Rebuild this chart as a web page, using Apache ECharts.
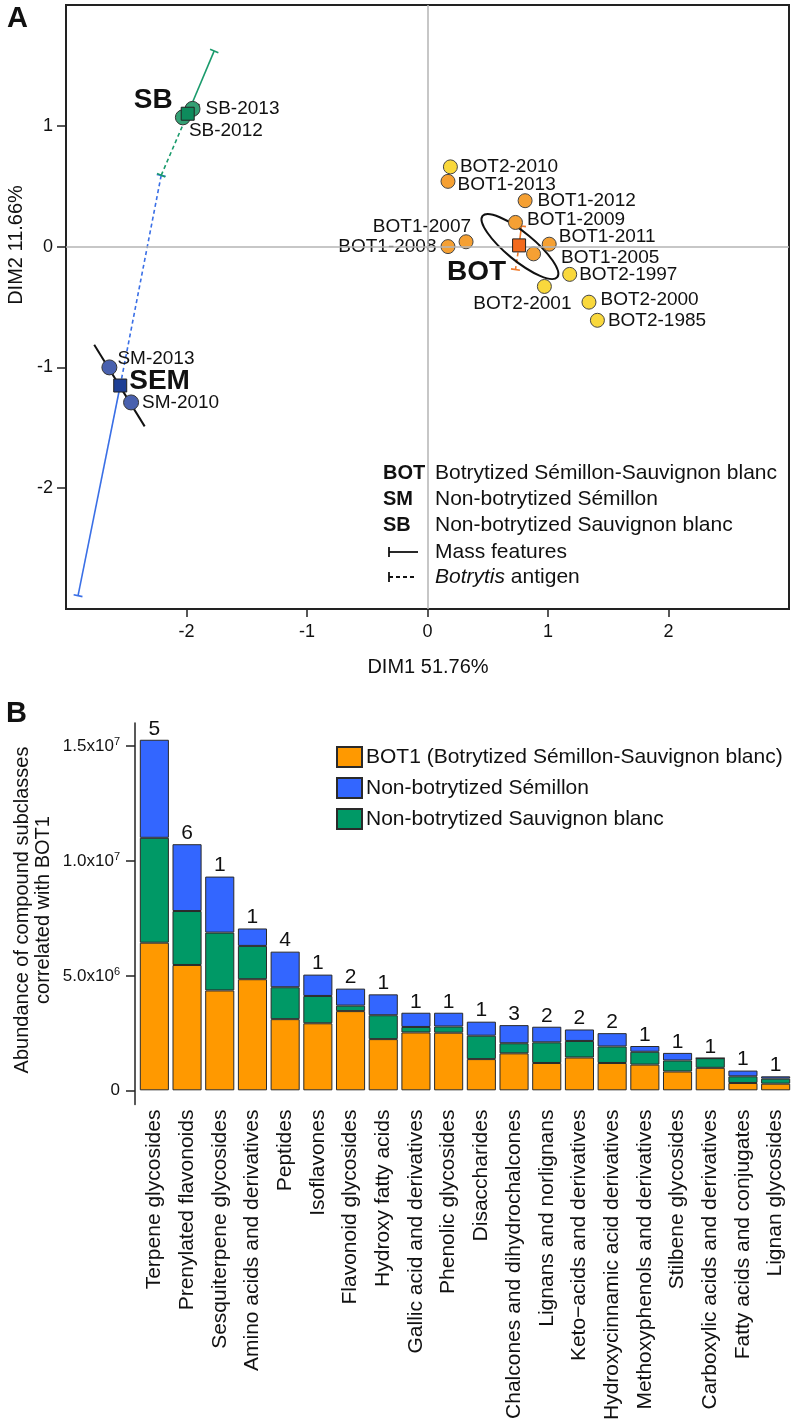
<!DOCTYPE html>
<html>
<head>
<meta charset="utf-8">
<title>BOT / SEM / SB</title>
<script src="https://cdn.jsdelivr.net/npm/echarts@6/dist/echarts.min.js"></script>
<style>
  html, body { margin: 0; padding: 0; background: #fff; }
  #main { width: 793px; height: 1423px; }
</style>
</head>
<body>
<div id="main"></div>
<script>
// ---- panel A: sample scores (DIM1, DIM2) ----
var bot1Names = ['BOT1-2013', 'BOT1-2012', 'BOT1-2009', 'BOT1-2007', 'BOT1-2008', 'BOT1-2011', 'BOT1-2005'];
var bot1X = [0.17, 0.81, 0.73, 0.32, 0.17, 1.01, 0.88];
var bot1Y = [0.54, 0.38, 0.20, 0.04, 0.00, 0.02, -0.06];
var bot2Names = ['BOT2-2010', 'BOT2-1997', 'BOT2-2001', 'BOT2-2000', 'BOT2-1985'];
var bot2X = [0.19, 1.18, 0.97, 1.34, 1.41];
var bot2Y = [0.66, -0.23, -0.33, -0.46, -0.61];
var smNames = ['SM-2013', 'SM-2010'];
var smX = [-2.64, -2.46];
var smY = [-1.00, -1.29];
var sbNames = ['SB-2013', 'SB-2012'];
var sbX = [-1.95, -2.03];
var sbY = [1.14, 1.07];

// group centroids and partial points (mass features / Botrytis antigen)
var groupNames = ['BOT', 'SEM', 'SB'];
var centroidX = [0.76, -2.55, -1.99];
var centroidY = [0.01, -1.15, 1.10];
var massX = [0.78, -2.90, -1.77];
var massY = [0.17, -2.89, 1.62];
var antigenX = [0.73, -2.21, -2.21];
var antigenY = [-0.19, 0.59, 0.59];
// confidence ellipses: major axis end points + semi-minor axis
var ellX1 = [0.457, -2.766, -2.069];
var ellY1 = [0.254, -0.812, 1.041];
var ellX2 = [1.077, -2.347, -1.893];
var ellY2 = [-0.253, -1.488, 1.179];
var ellMinor = [0.116, 0, 0];

var dimTicksX = [-2, -1, 0, 1, 2];
var dimTicksY = [-2, -1, 0, 1];

// ---- panel B: abundance of compound subclasses ----
var categories = ['Terpene glycosides', 'Prenylated flavonoids', 'Sesquiterpene glycosides',
  'Amino acids and derivatives', 'Peptides', 'Isoflavones', 'Flavonoid glycosides',
  'Hydroxy fatty acids', 'Gallic acid and derivatives', 'Phenolic glycosides', 'Disaccharides',
  'Chalcones and dihydrochalcones', 'Lignans and norlignans', 'Keto\u2212acids and derivatives',
  'Hydroxycinnamic acid derivatives', 'Methoxyphenols and derivatives', 'Stilbene glycosides',
  'Carboxylic acids and derivatives', 'Fatty acids and conjugates', 'Lignan glycosides'];
var bot1Abund = [6.43e6, 5.46e6, 4.35e6, 4.84e6, 3.10e6, 2.92e6, 3.45e6, 2.23e6, 2.52e6, 2.51e6,
  1.36e6, 1.61e6, 1.19e6, 1.43e6, 1.19e6, 1.12e6, 0.82e6, 0.98e6, 0.32e6, 0.29e6];
var sauvAbund = [4.57e6, 2.35e6, 2.52e6, 1.45e6, 1.39e6, 1.19e6, 0.24e6, 1.04e6, 0.24e6, 0.27e6,
  1.02e6, 0.44e6, 0.90e6, 0.72e6, 0.72e6, 0.56e6, 0.48e6, 0.42e6, 0.29e6, 0.22e6];
var semAbund = [4.27e6, 2.91e6, 2.44e6, 0.76e6, 1.55e6, 0.93e6, 0.74e6, 0.91e6, 0.62e6, 0.60e6,
  0.61e6, 0.79e6, 0.68e6, 0.50e6, 0.58e6, 0.25e6, 0.33e6, 0, 0.25e6, 0.10e6];
var counts = [5, 6, 1, 1, 4, 1, 2, 1, 1, 1, 1, 3, 2, 2, 2, 1, 1, 1, 1, 1];
var abundTicks = [0, 5e6, 1e7, 1.5e7];

var FONT = '"Liberation Sans", Arial, Helvetica, sans-serif';
var groupLineColors = ['#F07A2A', '#3A6FE6', '#1A9B6C'];
var squareColors = ['#F26A1E', '#1E3F95', '#0E8B5C'];

// label placement per point (style only)
var labelPlace = {
  'BOT2-2010': {position: 'right', distance: 2},
  'BOT1-2013': {position: 'right', distance: 2, offset: [0, 3]},
  'BOT1-2012': {position: 'right', distance: 5},
  'BOT1-2009': {position: 'right', distance: 4, offset: [0, -3]},
  'BOT1-2007': {position: 'inside', align: 'right', offset: [5, -15]},
  'BOT1-2008': {position: 'left', distance: 4},
  'BOT1-2011': {position: 'right', distance: 2, offset: [0, -7]},
  'BOT1-2005': {position: 'right', distance: 20, offset: [0, 4]},
  'BOT2-1997': {position: 'right', distance: 2},
  'BOT2-2001': {position: 'inside', offset: [-22, 17]},
  'BOT2-2000': {position: 'right', distance: 4, offset: [0, -2]},
  'BOT2-1985': {position: 'right', distance: 3},
  'SM-2013': {position: 'inside', align: 'left', offset: [8, -9]},
  'SM-2010': {position: 'right', distance: 3},
  'SB-2013': {position: 'right', distance: 5},
  'SB-2012': {position: 'inside', align: 'left', offset: [6, 13]},
  'BOT': {position: 'inside', align: 'right', offset: [-13, 27]},
  'SEM': {position: 'inside', align: 'left', offset: [9, -4]},
  'SB': {position: 'inside', align: 'right', offset: [-15, -13]}
};

function pointData(names, xs, ys, bold) {
  return names.map(function (n, i) {
    var lp = labelPlace[n] || {position: 'right'};
    var lab = {show: true, formatter: n, color: '#111', fontFamily: FONT,
      fontSize: bold ? 28 : 19, fontWeight: bold ? 'bold' : 'normal'};
    for (var k in lp) lab[k] = lp[k];
    return {name: n, value: [xs[i], ys[i]], label: lab};
  });
}

function renderPartial(dashed) {
  return function (params, api) {
    var p0 = api.coord([api.value(0), api.value(1)]);
    var p1 = api.coord([api.value(2), api.value(3)]);
    var dx = p1[0] - p0[0], dy = p1[1] - p0[1];
    var len = Math.sqrt(dx * dx + dy * dy) || 1;
    var nx = -dy / len * 4.5, ny = dx / len * 4.5;
    var c = groupLineColors[params.dataIndex];
    return {
      type: 'group',
      children: [
        {type: 'line', shape: {x1: p0[0], y1: p0[1], x2: p1[0], y2: p1[1]},
          style: {stroke: c, lineWidth: 1.6, lineDash: dashed ? [4, 3] : null}},
        {type: 'line', shape: {x1: p1[0] - nx, y1: p1[1] - ny, x2: p1[0] + nx, y2: p1[1] + ny},
          style: {stroke: c, lineWidth: 1.6}}
      ]
    };
  };
}

function renderEllipse(params, api) {
  var a = api.coord([api.value(0), api.value(1)]);
  var b = api.coord([api.value(2), api.value(3)]);
  var minor = api.size([0, api.value(4)])[1];
  if (minor < 1) {
    return {type: 'line', shape: {x1: a[0], y1: a[1], x2: b[0], y2: b[1]},
      style: {stroke: '#111', lineWidth: 2}};
  }
  var cx = (a[0] + b[0]) / 2, cy = (a[1] + b[1]) / 2;
  var rx = Math.sqrt((b[0] - a[0]) * (b[0] - a[0]) + (b[1] - a[1]) * (b[1] - a[1])) / 2;
  var ang = Math.atan2(b[1] - a[1], b[0] - a[0]);
  return {type: 'ellipse', x: cx, y: cy, rotation: -ang,
    shape: {cx: 0, cy: 0, rx: rx, ry: minor},
    style: {fill: 'none', stroke: '#111', lineWidth: 2}};
}

var partialMass = centroidX.map(function (v, i) { return [v, centroidY[i], massX[i], massY[i]]; });
var partialAnt = centroidX.map(function (v, i) { return [v, centroidY[i], antigenX[i], antigenY[i]]; });
var ellipses = ellX1.map(function (v, i) { return [v, ellY1[i], ellX2[i], ellY2[i], ellMinor[i]]; });
var totals = bot1Abund.map(function (v, i) { return v + sauvAbund[i] + semAbund[i]; });

var chart = echarts.init(document.getElementById('main'));

var legendRowStyle = {fontFamily: FONT, fontSize: 20, fill: '#111', textVerticalAlign: 'middle'};
function gText(x, y, text, extra) {
  var st = {text: text};
  for (var k in legendRowStyle) st[k] = legendRowStyle[k];
  for (var j in (extra || {})) st[j] = extra[j];
  return {type: 'text', x: x, y: y, style: st, z: 10};
}

var option = {
  animation: false,
  textStyle: {fontFamily: FONT, color: '#111'},
  grid: [
    {left: 66, top: 5, width: 723, height: 604, show: true, borderColor: '#222', borderWidth: 2},
    {left: 138, top: 723, width: 654, height: 400}
  ],
  xAxis: [
    {gridIndex: 0, type: 'value', min: -3, max: 3, interval: 1,
      axisLine: {show: true, onZero: false, lineStyle: {color: '#222', width: 2}},
      axisTick: {show: true, length: 8, customValues: dimTicksX, lineStyle: {color: '#222', width: 1.5}},
      axisLabel: {customValues: dimTicksX, fontSize: 18, margin: 14, color: '#111'},
      splitLine: {show: false}},
    {gridIndex: 1, type: 'category', data: categories,
      axisLine: {show: false, onZero: true},
      axisTick: {show: false},
      axisLabel: {rotate: 90, interval: 0, fontSize: 21, margin: 5, color: '#111'},
      splitLine: {show: false}}
  ],
  yAxis: [
    {gridIndex: 0, type: 'value', min: -3, max: 2, interval: 1,
      axisLine: {show: true, onZero: false, lineStyle: {color: '#222', width: 2}},
      axisTick: {show: true, length: 9, customValues: dimTicksY, lineStyle: {color: '#222', width: 1.5}},
      axisLabel: {customValues: dimTicksY, fontSize: 18, margin: 13, color: '#111'},
      splitLine: {show: false}},
    {gridIndex: 1, type: 'value', min: -6.2e5, max: 1.6e7, offset: 3,
      axisLine: {show: true, onZero: false, lineStyle: {color: '#222', width: 1.5}},
      axisTick: {show: true, length: 9, customValues: abundTicks, lineStyle: {color: '#222', width: 1.5}},
      axisLabel: {customValues: abundTicks, margin: 15, color: '#111',
        formatter: function (v) {
          if (v === 0) return '{n|0}';
          var e = Math.floor(Math.log10(v) + 1e-9);
          var m = v / Math.pow(10, e);
          return '{n|' + m.toFixed(1) + 'x10}{s|' + e + '}';
        },
        rich: {
          n: {fontSize: 17, color: '#111', fontFamily: FONT, verticalAlign: 'bottom'},
          s: {fontSize: 11, color: '#111', fontFamily: FONT, verticalAlign: 'bottom', padding: [0, 0, 7, 0]}
        }},
      splitLine: {show: false}}
  ],
  legend: {
    data: ['BOT1 (Botrytized Sémillon-Sauvignon blanc)', 'Non-botrytized Sémillon', 'Non-botrytized Sauvignon blanc'],
    orient: 'vertical', left: 331, top: 741, icon: 'rect',
    itemWidth: 25, itemHeight: 20, itemGap: 9,
    textStyle: {fontSize: 21, color: '#111', fontFamily: FONT, padding: [0, 0, 0, -1]}
  },
  graphic: [
    {type: 'text', x: 7, y: 4, style: {text: 'A', fontFamily: FONT, fontSize: 29, fontWeight: 'bold', fill: '#111'}},
    {type: 'text', x: 6, y: 699, style: {text: 'B', fontFamily: FONT, fontSize: 29, fontWeight: 'bold', fill: '#111'}},
    {type: 'text', x: 428, y: 667, style: {text: 'DIM1 51.76%', fontFamily: FONT, fontSize: 20, fill: '#111',
      textAlign: 'center', textVerticalAlign: 'middle'}},
    {type: 'text', x: 16, y: 245, rotation: Math.PI / 2, style: {text: 'DIM2 11.66%', fontFamily: FONT, fontSize: 20,
      fill: '#111', textAlign: 'center', textVerticalAlign: 'middle'}},
    {type: 'text', x: 33, y: 910, rotation: Math.PI / 2, style: {
      text: 'Abundance of compound subclasses\ncorrelated with BOT1', fontFamily: FONT, fontSize: 20,
      lineHeight: 21, fill: '#111', textAlign: 'center', textVerticalAlign: 'middle'}},
    // panel A key
    gText(383, 473, 'BOT', {fontWeight: 'bold'}),
    gText(383, 499, 'SM', {fontWeight: 'bold'}),
    gText(383, 525, 'SB', {fontWeight: 'bold'}),
    gText(435, 473, 'Botrytized Sémillon-Sauvignon blanc', {fontSize: 21}),
    gText(435, 499, 'Non-botrytized Sémillon', {fontSize: 21}),
    gText(435, 525, 'Non-botrytized Sauvignon blanc', {fontSize: 21}),
    gText(435, 552, 'Mass features', {fontSize: 21}),
    gText(435, 577, '{i|Botrytis} antigen', {fontSize: 21, rich: {i: {fontStyle: 'italic', fontSize: 21, fontFamily: FONT}}}),
    {type: 'line', shape: {x1: 389, y1: 552, x2: 418, y2: 552}, style: {stroke: '#111', lineWidth: 1.8}},
    {type: 'line', shape: {x1: 389, y1: 547, x2: 389, y2: 557}, style: {stroke: '#111', lineWidth: 1.8}},
    {type: 'line', shape: {x1: 389, y1: 577, x2: 417, y2: 577}, style: {stroke: '#111', lineWidth: 1.8, lineDash: [4, 3]}},
    {type: 'line', shape: {x1: 389, y1: 572, x2: 389, y2: 582}, style: {stroke: '#111', lineWidth: 1.8}}
  ],
  series: [
    {type: 'custom', name: 'mass', xAxisIndex: 0, yAxisIndex: 0, z: 2,
      renderItem: renderPartial(false), encode: {x: [0, 2], y: [1, 3]}, data: partialMass,
      markLine: {silent: true, symbol: ['none', 'none'], label: {show: false},
        lineStyle: {color: '#b5b5b5', width: 1.5, type: 'solid'},
        data: [{xAxis: 0}, {yAxis: 0}]}},
    {type: 'custom', name: 'antigen', xAxisIndex: 0, yAxisIndex: 0, z: 2,
      renderItem: renderPartial(true), encode: {x: [0, 2], y: [1, 3]}, data: partialAnt},
    {type: 'custom', name: 'ellipse', xAxisIndex: 0, yAxisIndex: 0, z: 3,
      renderItem: renderEllipse, encode: {x: [0, 2], y: [1, 3]}, data: ellipses},
    {type: 'scatter', name: 'BOT1', xAxisIndex: 0, yAxisIndex: 0, z: 4, symbolSize: 14,
      itemStyle: {color: '#F5A033', borderColor: '#444', borderWidth: 1, opacity: 1},
      data: pointData(bot1Names, bot1X, bot1Y, false)},
    {type: 'scatter', name: 'BOT2', xAxisIndex: 0, yAxisIndex: 0, z: 4, symbolSize: 14,
      itemStyle: {color: '#F9D83C', borderColor: '#444', borderWidth: 1, opacity: 1},
      data: pointData(bot2Names, bot2X, bot2Y, false)},
    {type: 'scatter', name: 'SM', xAxisIndex: 0, yAxisIndex: 0, z: 4, symbolSize: 15,
      itemStyle: {color: '#4961AE', borderColor: '#333', borderWidth: 1, opacity: 1},
      data: pointData(smNames, smX, smY, false)},
    {type: 'scatter', name: 'SB', xAxisIndex: 0, yAxisIndex: 0, z: 4, symbolSize: 15,
      itemStyle: {color: '#33A074', borderColor: '#333', borderWidth: 1, opacity: 1},
      data: pointData(sbNames, sbX, sbY, false)},
    {type: 'scatter', name: 'centroids', xAxisIndex: 0, yAxisIndex: 0, z: 5, symbol: 'rect', symbolSize: 13,
      itemStyle: {borderColor: '#222', borderWidth: 1, opacity: 1,
        color: function (p) { return squareColors[p.dataIndex]; }},
      data: pointData(groupNames, centroidX, centroidY, true)},
    // panel B
    {type: 'bar', name: 'BOT1 (Botrytized Sémillon-Sauvignon blanc)', xAxisIndex: 1, yAxisIndex: 1,
      stack: 'abund', barCategoryGap: '11%', data: bot1Abund,
      itemStyle: {color: '#FF9900', borderColor: '#2a2a2a', borderWidth: 1}},
    {type: 'bar', name: 'Non-botrytized Sauvignon blanc', xAxisIndex: 1, yAxisIndex: 1,
      stack: 'abund', barCategoryGap: '11%', data: sauvAbund,
      itemStyle: {color: '#009966', borderColor: '#2a2a2a', borderWidth: 1}},
    {type: 'bar', name: 'Non-botrytized Sémillon', xAxisIndex: 1, yAxisIndex: 1,
      stack: 'abund', barCategoryGap: '11%', data: semAbund,
      itemStyle: {color: '#3366FF', borderColor: '#2a2a2a', borderWidth: 1}},
    {type: 'scatter', name: 'counts', xAxisIndex: 1, yAxisIndex: 1, symbolSize: 1, data: totals,
      z: 6, itemStyle: {color: 'rgba(0,0,0,0)', opacity: 1},
      label: {show: true, position: 'top', distance: 0, fontSize: 21, color: '#111', fontFamily: FONT,
        opacity: 1, formatter: function (p) { return String(counts[p.dataIndex]); }}}
  ]
};

chart.setOption(option);
</script>
</body>
</html>
